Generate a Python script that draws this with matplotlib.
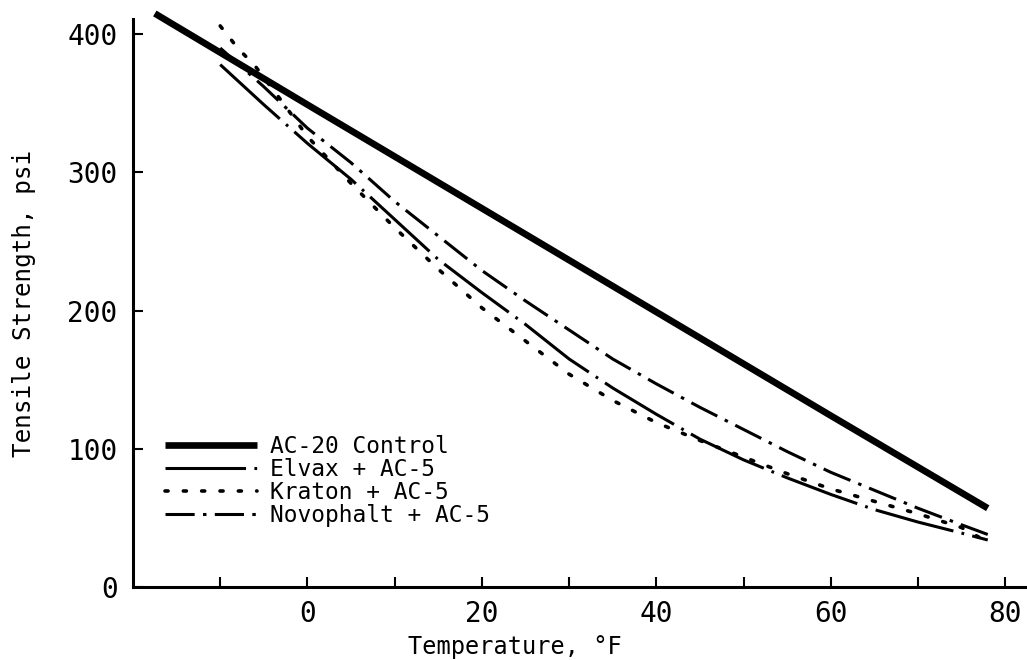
import numpy as np
import matplotlib
matplotlib.use('Agg')
import matplotlib.pyplot as plt
from matplotlib.ticker import MultipleLocator, FixedLocator

plt.rcParams['font.family'] = ['DejaVu Sans Mono']
plt.rcParams['lines.scale_dashes'] = False

# ── Data ──────────────────────────────────────────────────────────────────────
temp_ac20 = [-17.5, 0, 20, 40, 60, 78]
ts_ac20 = [415, 349, 274, 199, 124, 57]

temp_elvax = [-10, -5, 0, 5, 10, 15, 20, 25, 30, 35, 40, 45, 50, 55, 60, 65, 70, 75, 78]
ts_elvax = [378, 349, 321, 295, 266, 237, 213, 190, 165, 144, 125, 107, 92, 79, 67, 56, 47, 39, 34]

temp_kraton = [-10, -8, -6, -3, 0, 5, 10, 15, 20, 25, 30, 35, 40, 45, 50, 55, 60, 65, 70, 75, 77]
ts_kraton = [406, 390, 377, 352, 326, 292, 260, 230, 202, 178, 154, 135, 119, 106, 94, 82, 71, 62, 53, 43, 36]

temp_novo = [-10, -5, 0, 5, 10, 15, 20, 25, 30, 35, 40, 45, 50, 55, 60, 65, 70, 75, 78]
ts_novo = [390, 362, 332, 307, 279, 254, 229, 207, 186, 165, 147, 130, 114, 98, 83, 70, 57, 45, 38]

labels = ['AC-20 Control', 'Elvax + AC-5', 'Kraton + AC-5', 'Novophalt + AC-5']

# ── Figure ────────────────────────────────────────────────────────────────────
fig = plt.figure(figsize=(10.27, 6.60), dpi=100)
ax = fig.add_axes([133 / 1027, 73 / 660, 894 / 1027, 568 / 660])

ax.plot(temp_ac20, ts_ac20, color='black', lw=4.8, solid_capstyle='butt',
        clip_on=False, label=labels[0])
ax.plot(temp_elvax, ts_elvax, color='black', lw=2.2,
        linestyle=(0, (58, 6, 2, 6)), dash_capstyle='butt',
        clip_on=False, label=labels[1])
ax.plot(temp_kraton, ts_kraton, color='black', lw=2.6,
        linestyle=(0, (2.2, 11)), dash_capstyle='round',
        clip_on=False, label=labels[2])
ax.plot(temp_novo, ts_novo, color='black', lw=2.2,
        linestyle=(0, (21, 6, 2.5, 6)), dash_capstyle='butt',
        clip_on=False, label=labels[3])

ax.set_xlim(-20, 82.5)
ax.set_ylim(0, 411)

ax.xaxis.set_major_locator(FixedLocator([0, 20, 40, 60, 80]))
ax.xaxis.set_minor_locator(FixedLocator([-10, 10, 30, 50, 70]))
ax.yaxis.set_major_locator(MultipleLocator(100))

ax.tick_params(which='both', direction='in', length=7, width=1.5, color='black')
ax.tick_params(axis='x', labelsize=20, pad=9)
ax.tick_params(axis='y', labelsize=20, pad=11, left=True)

for side in ['top', 'right']:
    ax.spines[side].set_visible(False)
for side in ['left', 'bottom']:
    ax.spines[side].set_linewidth(2.2)

ax.set_xlabel('Temperature, °F', fontsize=17)
ax.xaxis.set_label_coords((515 - 133) / 894, -0.085)
ax.set_ylabel('Tensile Strength, psi', fontsize=17.5)
ax.yaxis.set_label_coords((36 - 133) / 894, 0.5)

ax.legend(loc='upper left', bbox_to_anchor=((165 - 133) / 894, (587 - 435) / 568),
          frameon=False, fontsize=16.5, handlelength=4.0, handletextpad=0.6,
          labelspacing=0.0, borderpad=0, borderaxespad=0)

fig.savefig('out.png', dpi=100)
